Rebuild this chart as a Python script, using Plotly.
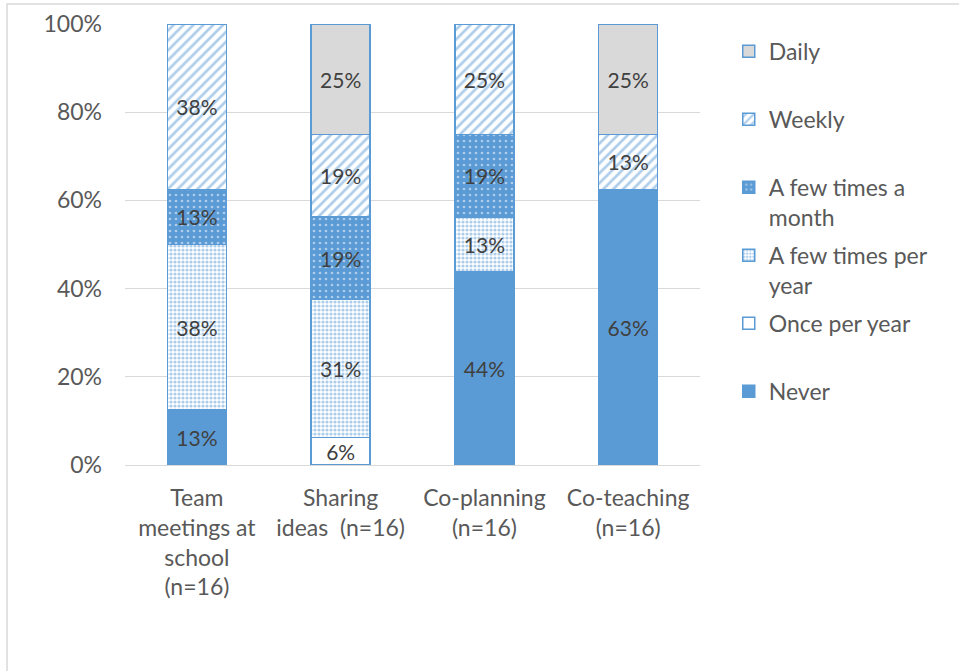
import plotly.graph_objects as go

# Activity categories along the x axis
categories = [
    "Team<br>meetings at<br>school<br>(n=16)",
    "Sharing<br>ideas  (n=16)",
    "Co-planning<br>(n=16)",
    "Co-teaching<br>(n=16)",
]

# Share of respondents (%) per frequency, one list per series (stack order bottom -> top)
never = [12.5, 0, 43.75, 62.5]
once_per_year = [0, 6.25, 0, 0]
few_per_year = [37.5, 31.25, 12.5, 0]
few_per_month = [12.5, 18.75, 18.75, 0]
weekly = [37.5, 18.75, 25, 12.5]
daily = [0, 25, 0, 25]

series_names = ["Never", "Once per year", "A few times per<br>year",
                "A few times a<br>month", "Weekly", "Daily"]
series_values = [never, once_per_year, few_per_year, few_per_month, weekly, daily]

BLUE = "#5B9BD5"
GREY = "#D9D9D9"
FONT = "Lato"


def pct_label(v):
    # round half up, hide empty segments
    return f"{int(v + 0.5)}%" if v > 0 else ""


styles = [
    dict(color=BLUE),
    dict(color="white"),
    dict(color="white", pattern=dict(shape=".", fgcolor=BLUE, bgcolor="white",
                                     size=4, solidity=0.5, fillmode="overlay")),
    dict(color=BLUE, pattern=dict(shape=".", fgcolor="white", bgcolor=BLUE,
                                  size=6, solidity=0.16, fillmode="overlay")),
    dict(color="white", pattern=dict(shape="/", fgcolor=BLUE, bgcolor="white",
                                     size=7, solidity=0.38, fillmode="overlay")),
    dict(color=GREY),
]

fig = go.Figure()
n = len(series_names)
for i, (name, vals, st) in enumerate(zip(series_names, series_values, styles)):
    legend_name = name if "<br>" in name else name + "<br> "
    fig.add_trace(go.Bar(
        x=categories,
        y=vals,
        name=legend_name,
        legendgroup=f"g{i}",
        legendrank=n - i,
        text=[pct_label(v) for v in vals],
        textposition="inside",
        insidetextanchor="middle",
        textangle=0,
        constraintext="none",
        textfont=dict(family=FONT, size=21, color="#404040"),
        marker=dict(line=dict(color=BLUE, width=1.5), **st),
        hoverinfo="skip",
    ))

# outer chart border (top and left edges visible)
fig.add_shape(type="rect", xref="paper", yref="paper",
              x0=-0.2052, x1=2.0, y0=-2.0, y1=1.0454,
              line=dict(color=GREY, width=1.5), fillcolor="rgba(0,0,0,0)",
              layer="below")

fig.update_layout(
    width=959, height=671,
    margin=dict(l=125, r=259, t=24, b=206, autoexpand=False),
    barmode="stack",
    bargap=0.59,
    plot_bgcolor="white",
    paper_bgcolor="white",
    font=dict(family=FONT, color="#595959", size=23),
    uniformtext=dict(minsize=21, mode="show"),
    legend=dict(
        x=1.05, y=0.987, xanchor="left", yanchor="top",
        traceorder="grouped",
        tracegroupgap=5.2,
        valign="top",
        font=dict(family=FONT, size=23, color="#595959"),
        itemclick=False, itemdoubleclick=False,
    ),
    showlegend=True,
)
fig.update_yaxes(
    range=[0, 100], dtick=20, ticksuffix="%",
    showgrid=True, gridcolor=GREY, gridwidth=1.3,
    zeroline=False, showline=False, automargin=False,
    ticklabelstandoff=22,
    tickfont=dict(family=FONT, size=23, color="#595959"),
)
fig.update_xaxes(
    showline=True, linecolor=GREY, linewidth=1.3, automargin=False,
    ticks="", ticklabelstandoff=12,
    tickfont=dict(family=FONT, size=23, color="#595959"),
)

fig.write_html("out.html")
